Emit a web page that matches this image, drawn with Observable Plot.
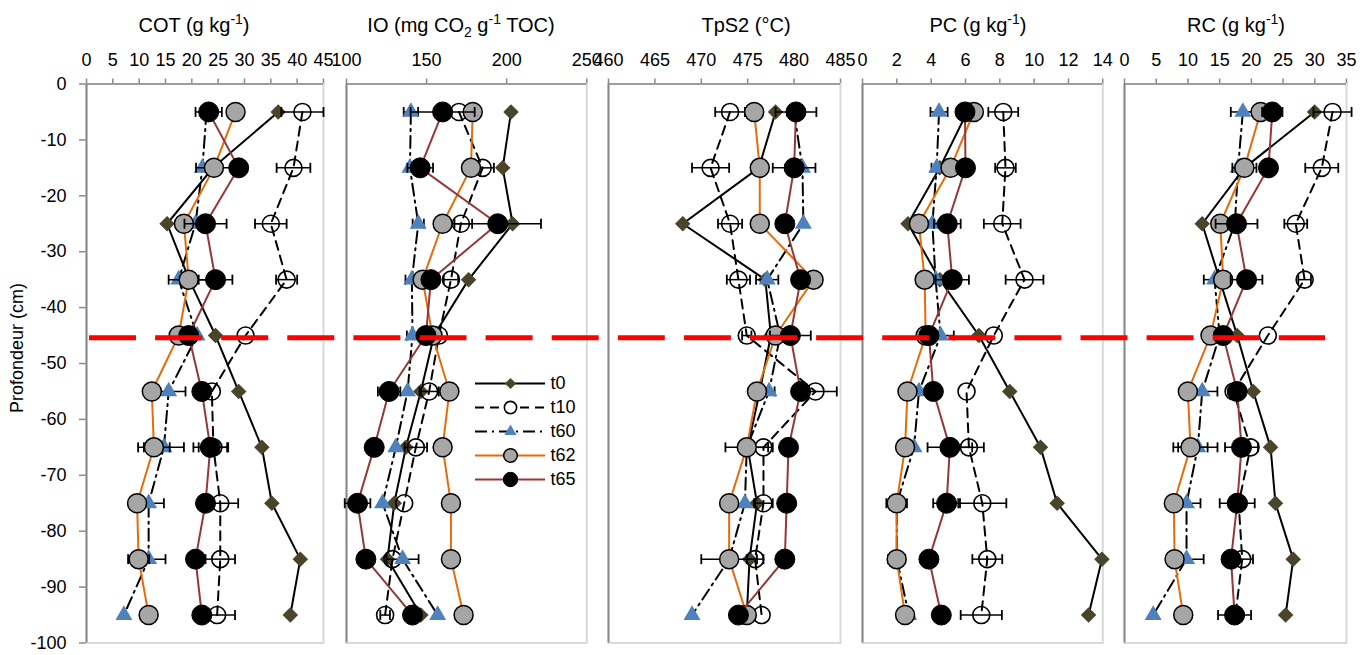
<!DOCTYPE html>
<html><head><meta charset="utf-8">
<script src="https://cdn.jsdelivr.net/npm/d3@7"></script>
<script src="https://cdn.jsdelivr.net/npm/@observablehq/plot@0.6"></script>
<style>
body{margin:0;background:#fff;font-family:"Liberation Sans",Arial,sans-serif;}
#fig{position:relative;width:1371px;height:655px;overflow:hidden;background:#fff;}
.layer{position:absolute;top:0;}
.title{position:absolute;top:15px;font-size:20px;line-height:1;white-space:nowrap;transform:translateX(-50%);color:#000;}
.title sup,.title sub{font-size:0.7em;line-height:0;}
.ylab{position:absolute;font-size:18px;white-space:nowrap;transform:translate(-50%,-50%) rotate(-90deg);}
[aria-label="x-axis tick"],[aria-label="y-axis tick"]{color:#898989;stroke-width:1.5;}
</style></head>
<body><div id="fig"></div>
<script>
// ---------- data ----------
const depths = [-5,-15,-25,-35,-45,-55,-65,-75,-85,-95];
const seriesNames = ["t0","t10","t60","t62","t65"];
const depthTicks = [0,-10,-20,-30,-40,-50,-60,-70,-80,-90,-100];
const boundaryDepth = -45.4;

const cotTicks = [0,5,10,15,20,25,30,35,40,45];
const ioTicks = [100,150,200,250];
const tps2Ticks = [460,465,470,475,480,485];
const pcTicks = [0,2,4,6,8,10,12,14];
const rcTicks = [0,5,10,15,20,25,30,35];

// COT (g kg-1)
const COT_t0  = [36.4,24.0,15.3,19.5,24.5,28.9,33.3,35.2,40.6,38.7];
const COT_t10 = [41.0,39.3,35.0,38.0,30.2,23.8,24.1,25.4,25.4,24.8];
const COT_t60 = [22.8,22.0,20.7,17.5,21.0,15.6,14.7,11.8,11.8,7.1];
const COT_t62 = [28.3,24.2,18.5,19.4,17.5,12.4,12.8,9.6,9.9,11.8];
const COT_t65 = [23.2,28.9,22.6,24.5,19.4,21.9,23.5,22.6,20.7,21.9];
const COT_t10_err = [4,3.2,3,2,0,0,2.8,3.4,2.8,3.4];
const COT_t60_err = [0,0,0,0,0,3.2,3.8,2.9,3.2,0];
const COT_t62_err = [0,3.4,0,3.8,0,0,3,0,2,0];
const COT_t65_err = [2.5,0,4,3.2,0,0,3.2,0,0,0];

// IO (mg CO2 g-1 TOC)
const IO_t0  = [202.7,197.5,203.7,176.2,154.6,146.4,137.1,129.8,125.6,146.4];
const IO_t10 = [170.2,185.0,171.4,165.2,157.7,151.6,143.3,136.0,128.7,124.1];
const IO_t60 = [140.2,139.6,144.8,140.8,141.2,138.1,130.8,122.5,135.0,156.9];
const IO_t62 = [178.8,177.7,160.0,147.5,153.7,164.2,160.0,165.2,165.2,173.1];
const IO_t65 = [160.0,146.0,194.4,152.7,149.6,126.6,117.3,106.9,112.1,141.2];
const IO_t10_err = [0,7,7,4.5,0,6,7,0,0,3];
const IO_t60_err = [4.5,0,3.5,4,3.5,0,0,0,10,0];
const IO_t65_err = [20,8,27,0,0,7,0,8,0,0];

// TpS2 (°C)
const TPS2_t0  = [478.0,476.2,468.0,476.9,477.5,476.3,475.0,476.0,475.2,474.9];
const TPS2_t10 = [473.1,471.0,473.1,474.0,474.9,482.3,476.7,476.7,475.8,476.5];
const TPS2_t60 = [480.0,480.9,481.0,477.1,478.5,477.3,474.9,474.7,473.0,469.0];
const TPS2_t62 = [475.7,476.3,476.3,482.1,478.0,476.0,474.9,473.0,473.0,474.9];
const TPS2_t65 = [480.2,480.0,479.0,480.7,479.6,480.7,479.4,479.2,479.0,474.0];
const TPS2_t10_err = [1.6,2,1.3,1.25,0.5,2.3,1,1,0.9,0];
const TPS2_t60_err = [0,0,0,1.2,0,0.6,0,0,0,0];
const TPS2_t62_err = [0,0,0,0,0,0,2.3,0,3,0];
const TPS2_t65_err = [2.2,2.3,0,0,2.2,0,0,0,0,0];

// PC (g kg-1)
const PC_t0  = [6.1,4.5,2.65,4.51,6.78,8.58,10.37,11.34,13.95,13.17];
const PC_t10 = [8.2,8.33,8.14,9.44,7.65,6.06,6.2,6.98,7.27,6.92];
const PC_t60 = [4.46,4.32,4.07,4.26,4.55,3.29,3.0,2.0,2.0,2.7];
const PC_t62 = [6.49,5.13,3.29,3.62,3.68,2.62,2.48,1.99,1.99,2.48];
const PC_t65 = [5.97,6.0,4.94,5.23,3.87,4.13,5.09,4.9,3.87,4.59];
const PC_t10_err = [0.87,0.6,1.07,1.1,0,0,0.87,1.4,0.87,1.2];
const PC_t60_err = [0.5,0.3,0,0,0.77,0,0,0,0,0];
const PC_t62_err = [0,0,0,0,0,0,0,0.6,0.5,0];
const PC_t65_err = [0,0,0.78,0.97,0,0,1.3,0.78,0,0];

// RC (g kg-1)
const RC_t0  = [29.97,18.9,12.25,15.0,17.77,20.3,23.03,23.8,26.6,25.4];
const RC_t10 = [32.8,31.1,27.0,28.4,22.6,17.2,19.87,18.0,18.56,17.5];
const RC_t60 = [18.66,17.9,17.4,14.2,15.0,12.25,11.56,9.78,9.78,4.52];
const RC_t62 = [21.45,18.9,15.1,15.56,13.56,9.99,10.4,7.78,7.89,9.26];
const RC_t65 = [23.3,22.7,17.66,19.24,15.56,17.77,18.45,17.77,16.8,17.35];
const RC_t10_err = [3,2.6,1.8,1,0,0,0,0,1.7,0];
const RC_t60_err = [1.9,0,0,1.7,0,2.4,3.1,2.2,2.7,0];
const RC_t62_err = [0,1.9,0,0,0,0,2.7,0,0,0];
const RC_t65_err = [1.6,0,3.3,2.5,0,0,2.6,2.76,0,2.6];

// ---------- styles / layout ----------
const panels = [
  {title:'COT (g kg<sup>-1</sup>)', titleX:194, L:86, R:323, domain:[0,45], ticks:cotTicks,
   data:{t0:COT_t0,t10:COT_t10,t60:COT_t60,t62:COT_t62,t65:COT_t65},
   err:{t10:COT_t10_err,t60:COT_t60_err,t62:COT_t62_err,t65:COT_t65_err}},
  {title:'IO (mg CO<sub>2</sub> g<sup>-1</sup> TOC)', titleX:461, L:345.7, R:586, domain:[100,250], ticks:ioTicks,
   data:{t0:IO_t0,t10:IO_t10,t60:IO_t60,t62:IO_t62,t65:IO_t65},
   err:{t10:IO_t10_err,t60:IO_t60_err,t65:IO_t65_err}},
  {title:'TpS2 (°C)', titleX:746, L:608, R:840, domain:[460,485], ticks:tps2Ticks,
   data:{t0:TPS2_t0,t10:TPS2_t10,t60:TPS2_t60,t62:TPS2_t62,t65:TPS2_t65},
   err:{t10:TPS2_t10_err,t60:TPS2_t60_err,t62:TPS2_t62_err,t65:TPS2_t65_err}},
  {title:'PC (g kg<sup>-1</sup>)', titleX:978, L:861.7, R:1102, domain:[0,14], ticks:pcTicks,
   data:{t0:PC_t0,t10:PC_t10,t60:PC_t60,t62:PC_t62,t65:PC_t65},
   err:{t10:PC_t10_err,t60:PC_t60_err,t62:PC_t62_err,t65:PC_t65_err}},
  {title:'RC (g kg<sup>-1</sup>)', titleX:1236, L:1124, R:1346, domain:[0,35], ticks:rcTicks,
   data:{t0:RC_t0,t10:RC_t10,t60:RC_t60,t62:RC_t62,t65:RC_t65},
   err:{t10:RC_t10_err,t60:RC_t60_err,t62:RC_t62_err,t65:RC_t65_err}}
];

const seriesStyle = {
  t0:  {line:{stroke:"#000", strokeWidth:2}, dot:{symbol:"diamond2", r:7, fill:"#4A452A", stroke:"none"}},
  t10: {line:{stroke:"#000", strokeWidth:2, strokeDasharray:"9,6"}, dot:{symbol:"circle", r:8.5, fill:"none", stroke:"#000", strokeWidth:1.6}, barsOnTop:true},
  t60: {line:{stroke:"#000", strokeWidth:2, strokeDasharray:"12,5,2,5"}, dot:{symbol:"triangle", r:6.3, fill:"#4F81BD", stroke:"none"}},
  t62: {line:{stroke:"#E46C0A", strokeWidth:2}, dot:{symbol:"circle", r:9.5, fill:"#A6A6A6", stroke:"#000", strokeWidth:1.5}},
  t65: {line:{stroke:"#953735", strokeWidth:2}, dot:{symbol:"circle", r:10, fill:"#000", stroke:"#000", strokeWidth:1}}
};
const legendScale = 0.72;

const capSymbol = {draw(ctx, size){ const h = Math.sqrt(size/Math.PI); ctx.moveTo(0,-h); ctx.lineTo(0,h); }};
const svgStyle = {overflow:"visible", background:"transparent", fontFamily:'"Liberation Sans", Arial, sans-serif', fontSize:"18px", color:"#000"};
const TOP = 83.5, H = 655, BOTTOM = 12.5;

const fig = document.getElementById("fig");

panels.forEach((p, idx) => {
  const m = 14;
  const left = idx === 0 ? 0 : p.L - m;
  const mL = p.L - left;
  const width = Math.round(p.R - left + m);
  const mR = width - (p.R - left);
  const marks = [
    Plot.frame({stroke:"#D9D9D9", strokeWidth:2}),
    Plot.ruleX([p.domain[0]], {stroke:"#898989", strokeWidth:2}),
    Plot.ruleY([0], {stroke:"#898989", strokeWidth:1.5})
  ];
  for (const s of seriesNames) {
    const errs = p.err[s] || depths.map(() => 0);
    const rows = depths.map((d, i) => ({depth:d, v:p.data[s][i], e:errs[i]}));
    const st = seriesStyle[s];
    const eb = rows.filter(r => r.e > 0);
    const bars = [
      Plot.ruleY(eb, {y:"depth", x1:r => r.v - r.e, x2:r => r.v + r.e, stroke:"#000", strokeWidth:1.5}),
      Plot.dot(eb, {x:r => r.v - r.e, y:"depth", symbol:capSymbol, r:5, stroke:"#000", strokeWidth:1.8}),
      Plot.dot(eb, {x:r => r.v + r.e, y:"depth", symbol:capSymbol, r:5, stroke:"#000", strokeWidth:1.8})
    ];
    const dots = Plot.dot(rows, {x:"v", y:"depth", ...st.dot});
    marks.push(Plot.line(rows, {x:"v", y:"depth", ...st.line}));
    if (st.barsOnTop) marks.push(dots, ...bars); else marks.push(...bars, dots);
  }
  const svg = Plot.plot({
    width, height:H, marginTop:TOP, marginBottom:BOTTOM, marginLeft:mL, marginRight:mR,
    style:svgStyle,
    x:{domain:p.domain, ticks:p.ticks, axis:"top", tickSize:6, tickPadding:12, label:null, tickFormat:d => String(d)},
    y:{domain:[-100,0], ticks:depthTicks, axis: idx === 0 ? "left" : null, tickSize:7, tickPadding:13, label:null, tickFormat:d => String(d)},
    marks
  });
  svg.classList.add("layer");
  svg.style.left = left + "px";
  fig.appendChild(svg);

  const t = document.createElement("div");
  t.className = "title";
  t.style.left = p.titleX + "px";
  t.innerHTML = p.title;
  fig.appendChild(t);
});

// y-axis label
const yl = document.createElement("div");
yl.className = "ylab";
yl.style.left = "16.5px"; yl.style.top = "348px";
yl.textContent = "Profondeur (cm)";
fig.appendChild(yl);

// legend
const legend = Plot.plot({
  width:120, height:120, marginTop:12, marginBottom:12, marginLeft:10, marginRight:40,
  style:svgStyle,
  x:{domain:[0,1], axis:null}, y:{type:"point", domain:seriesNames, padding:0, axis:null},
  marks: seriesNames.flatMap(s => {
    const st = seriesStyle[s];
    const dotStyle = {...st.dot, r:st.dot.r * legendScale};
    if (dotStyle.fill === "none") dotStyle.fill = "#fff";
    return [
      Plot.ruleY([s], {y:d => d, x1:() => 0, x2:() => 1, ...st.line}),
      Plot.dot([s], {x:() => 0.5, y:d => d, ...dotStyle}),
      Plot.text([s], {x:() => 1, y:d => d, text:d => d, dx:5, textAnchor:"start", fontSize:18})
    ];
  })
});
legend.classList.add("layer");
legend.style.left = "465px"; legend.style.top = "371px";
fig.appendChild(legend);

// red boundary line across the figure
const overlay = Plot.plot({
  width:1371, height:H, marginTop:TOP, marginBottom:BOTTOM, marginLeft:89, marginRight:46,
  style:{background:"transparent", overflow:"visible"},
  x:{domain:[0,1], axis:null}, y:{domain:[-100,0], axis:null},
  marks:[Plot.ruleY([boundaryDepth], {stroke:"#FF0000", strokeWidth:5, strokeDasharray:"47,19.1"})]
});
overlay.classList.add("layer");
overlay.style.left = "0px";
overlay.style.pointerEvents = "none";
fig.appendChild(overlay);
</script></body></html>
